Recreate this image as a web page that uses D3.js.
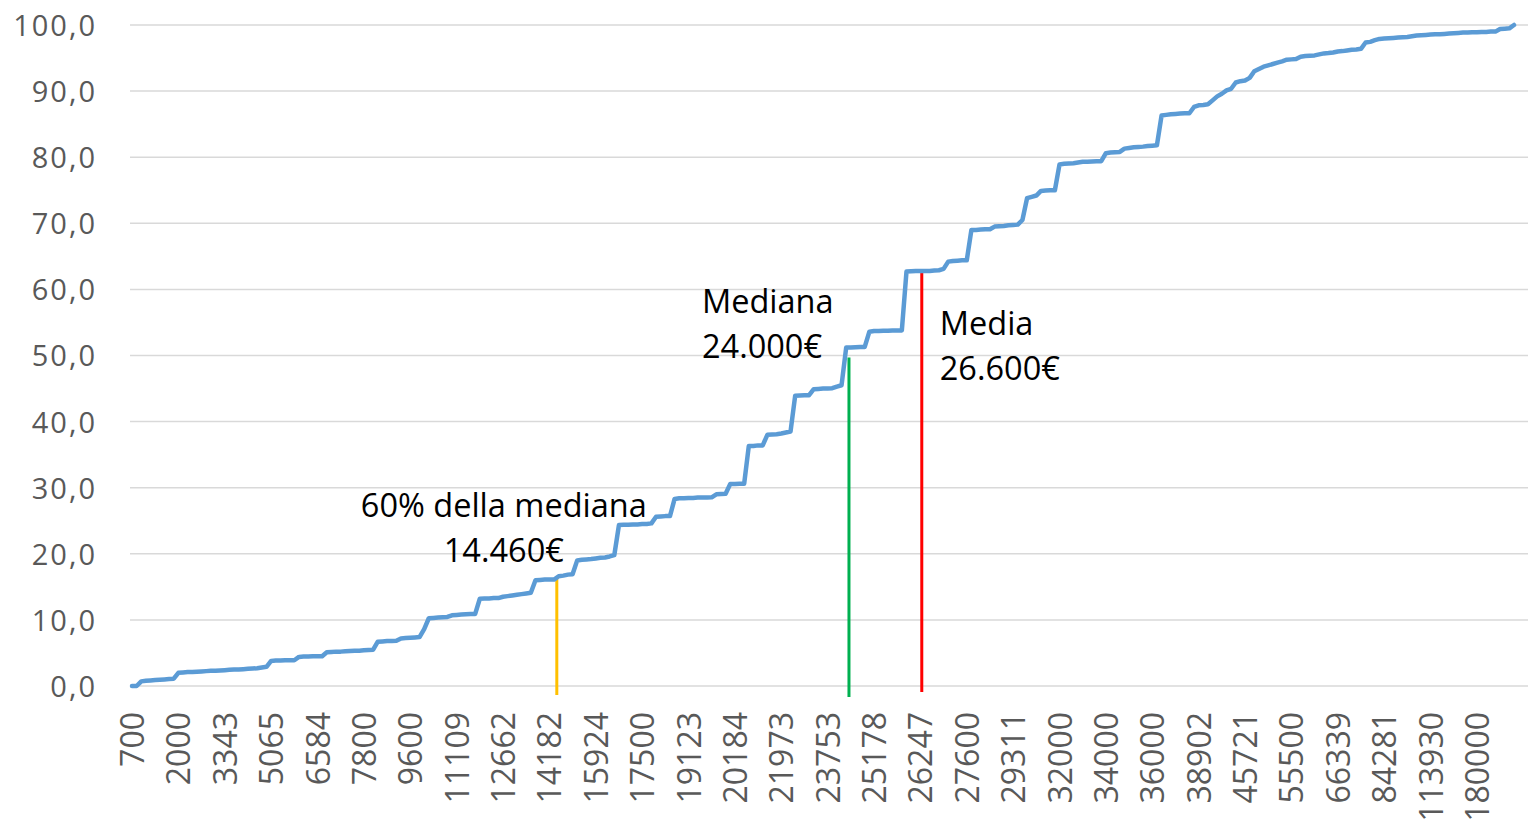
<!DOCTYPE html>
<meta charset="utf-8">
<style>

body {
  margin: 0;
  background: #fff;
}

.grid line {
  stroke: #d9d9d9;
  stroke-width: 1.5px;
}

.axis text {
  font-family: "Open Sans", sans-serif;
  fill: #595959;
}

.note {
  font-family: "Open Sans", sans-serif;
  font-size: 32.5px;
  fill: #000;
}

</style>
<svg></svg>
<script src="https://d3js.org/d3.v7.min.js"></script>
<script>

var width = 1528,
    height = 827;

// income labels shown on the category axis (one every 10 categories)
var xLabels = ["700", "2000", "3343", "5065", "6584", "7800", "9600", "11109", "12662", "14182",
  "15924", "17500", "19123", "20184", "21973", "23753", "25178", "26247", "27600", "29311",
  "32000", "34000", "36000", "38902", "45721", "55500", "66339", "84281", "113930", "180000"];

var labelEvery = 10;

var yTicks = [0, 10, 20, 30, 40, 50, 60, 70, 80, 90, 100];

// cumulative percentage, one value per category
var cumPct = [
  0, 0, 0.7, 0.8, 0.85, 0.9, 0.95, 1.0, 1.05, 1.1,
  2.0, 2.05, 2.1, 2.1, 2.15, 2.2, 2.25, 2.3, 2.3, 2.35,
  2.4, 2.45, 2.5, 2.5, 2.55, 2.6, 2.65, 2.7, 2.8, 2.9,
  3.8, 3.85, 3.85, 3.9, 3.9, 3.9, 4.4, 4.45, 4.45, 4.5,
  4.5, 4.5, 5.1, 5.15, 5.2, 5.2, 5.25, 5.3, 5.35, 5.35,
  5.4, 5.45, 5.5, 6.7, 6.75, 6.8, 6.8, 6.85, 7.2, 7.25,
  7.3, 7.35, 7.4, 8.6, 10.25, 10.3, 10.35, 10.4, 10.45, 10.7,
  10.75, 10.8, 10.85, 10.9, 10.9, 13.2, 13.25, 13.25, 13.3, 13.3,
  13.5, 13.6, 13.7, 13.8, 13.9, 14.0, 14.1, 16.0, 16.05, 16.1,
  16.1, 16.1, 16.6, 16.7, 16.85, 16.9, 19.0, 19.1, 19.15, 19.2,
  19.3, 19.4, 19.45, 19.6, 19.8, 24.35, 24.4, 24.4, 24.45, 24.45,
  24.5, 24.5, 24.6, 25.6, 25.65, 25.7, 25.7, 28.3, 28.4, 28.4,
  28.45, 28.45, 28.5, 28.5, 28.5, 28.55, 29.0, 29.05, 29.1, 30.55,
  30.55, 30.6, 30.6, 36.3, 36.3, 36.4, 36.4, 38.0, 38.05, 38.1,
  38.2, 38.35, 38.5, 43.9, 43.95, 44.0, 44.0, 44.9, 44.95, 45.0,
  45.0, 45.05, 45.3, 45.5, 51.2, 51.2, 51.25, 51.3, 51.3, 53.6,
  53.7, 53.7, 53.75, 53.75, 53.8, 53.8, 53.8, 62.7, 62.75, 62.8,
  62.8, 62.8, 62.8, 62.85, 62.9, 63.1, 64.2, 64.3, 64.35, 64.4,
  64.4, 69.0, 69.0, 69.05, 69.1, 69.1, 69.5, 69.55, 69.6, 69.7,
  69.75, 69.8, 70.5, 73.8, 74.0, 74.2, 74.9, 74.95, 75.0, 75.0,
  78.9, 79.0, 79.05, 79.1, 79.2, 79.3, 79.3, 79.35, 79.4, 79.4,
  80.6, 80.7, 80.75, 80.8, 81.3, 81.4, 81.5, 81.55, 81.6, 81.7,
  81.75, 81.8, 86.3, 86.4, 86.5, 86.55, 86.6, 86.65, 86.65, 87.6,
  87.85, 87.9, 88.0, 88.6, 89.2, 89.6, 90.1, 90.35, 91.3, 91.5,
  91.6, 92.0, 93.0, 93.35, 93.7, 93.9, 94.1, 94.3, 94.5, 94.75,
  94.8, 94.85, 95.2, 95.3, 95.35, 95.4, 95.55, 95.7, 95.75, 95.85,
  96.0, 96.05, 96.15, 96.25, 96.3, 96.4, 97.35, 97.45, 97.7, 97.9,
  97.95, 98.0, 98.05, 98.1, 98.15, 98.2, 98.3, 98.4, 98.45, 98.5,
  98.55, 98.6, 98.6, 98.65, 98.7, 98.75, 98.8, 98.85, 98.85, 98.9,
  98.9, 98.95, 98.95, 99.0, 99.0, 99.4, 99.45, 99.5, 100
];

// reference lines: category position, top value, colour, text
var markPos = [91.6, 154.6, 170.3];
var markTop = [16.5, 49.7, 62.7];
var markColor = ["#ffc000", "#00b050", "#ff0000"];
var markText = [["60% della mediana", "14.460€"], ["Mediana", "24.000€"], ["Media", "26.600€"]];

var plotLeft = 130, plotRight = 1528;

var x = d3.scaleLinear()
    .domain([0, cumPct.length - 1])
    .range([132, 1514]);

var y = d3.scaleLinear()
    .domain([0, 100])
    .range([686, 25]);

var svg = d3.select("svg")
    .attr("width", width)
    .attr("height", height);

// horizontal gridlines
svg.append("g")
    .attr("class", "grid")
  .selectAll("line")
  .data(yTicks)
  .enter().append("line")
    .attr("x1", plotLeft)
    .attr("x2", plotRight)
    .attr("y1", function(d) { return y(d); })
    .attr("y2", function(d) { return y(d); });

// y axis labels
var yAxis = svg.append("g")
    .attr("class", "axis")
    .attr("transform", "translate(" + plotLeft + ",0)")
    .call(d3.axisLeft(y)
      .tickValues(yTicks)
      .tickSize(0)
      .tickPadding(33)
      .tickFormat(function(d) { return d.toFixed(1).replace(".", ","); }));
yAxis.select(".domain").remove();
yAxis.selectAll("text")
    .style("font-size", "29px")
    .style("letter-spacing", "2px")
    .attr("dy", "0.36em");

// x axis labels, rotated
var xAxis = svg.append("g")
    .attr("class", "axis")
    .attr("transform", "translate(0," + y(0) + ")")
    .call(d3.axisBottom(x)
      .tickValues(xLabels.map(function(d, i) { return i * labelEvery; }))
      .tickSize(0)
      .tickFormat(function(d) { return xLabels[d / labelEvery]; }));
xAxis.select(".domain").remove();
xAxis.selectAll("text")
    .style("font-size", "32px")
    .attr("text-anchor", "end")
    .attr("transform", "rotate(-90)")
    .attr("x", -26)
    .attr("y", 0)
    .attr("dy", "0.36em");

// vertical reference lines
var marks = svg.append("g");
var bottoms = [695, 697, 692];

marks.selectAll("line")
  .data(markPos)
  .enter().append("line")
    .attr("x1", function(d) { return x(d); })
    .attr("x2", function(d) { return x(d); })
    .attr("y1", function(d, i) { return y(markTop[i]); })
    .attr("y2", function(d, i) { return bottoms[i]; })
    .attr("stroke", function(d, i) { return markColor[i]; })
    .attr("stroke-width", 3);

// the curve
var line = d3.line()
    .x(function(d, i) { return x(i); })
    .y(function(d) { return y(d); });

svg.append("path")
    .datum(cumPct)
    .attr("fill", "none")
    .attr("stroke", "#5b9bd5")
    .attr("stroke-width", 4.5)
    .attr("stroke-linejoin", "round")
    .attr("stroke-linecap", "round")
    .attr("d", line);

// annotation texts
var notes = [
  {x: x(markPos[0]) - 53, y: 517, anchor: "middle"},
  {x: x(markPos[1]) - 147, y: 313, anchor: "start"},
  {x: x(markPos[2]) + 18, y: 335, anchor: "start"}
];

notes.forEach(function(n, i) {
  var t = svg.append("text")
      .attr("class", "note")
      .attr("text-anchor", n.anchor);
  markText[i].forEach(function(s, j) {
    t.append("tspan")
        .attr("x", n.x)
        .attr("y", n.y + j * 45)
        .text(s);
  });
});

</script>
